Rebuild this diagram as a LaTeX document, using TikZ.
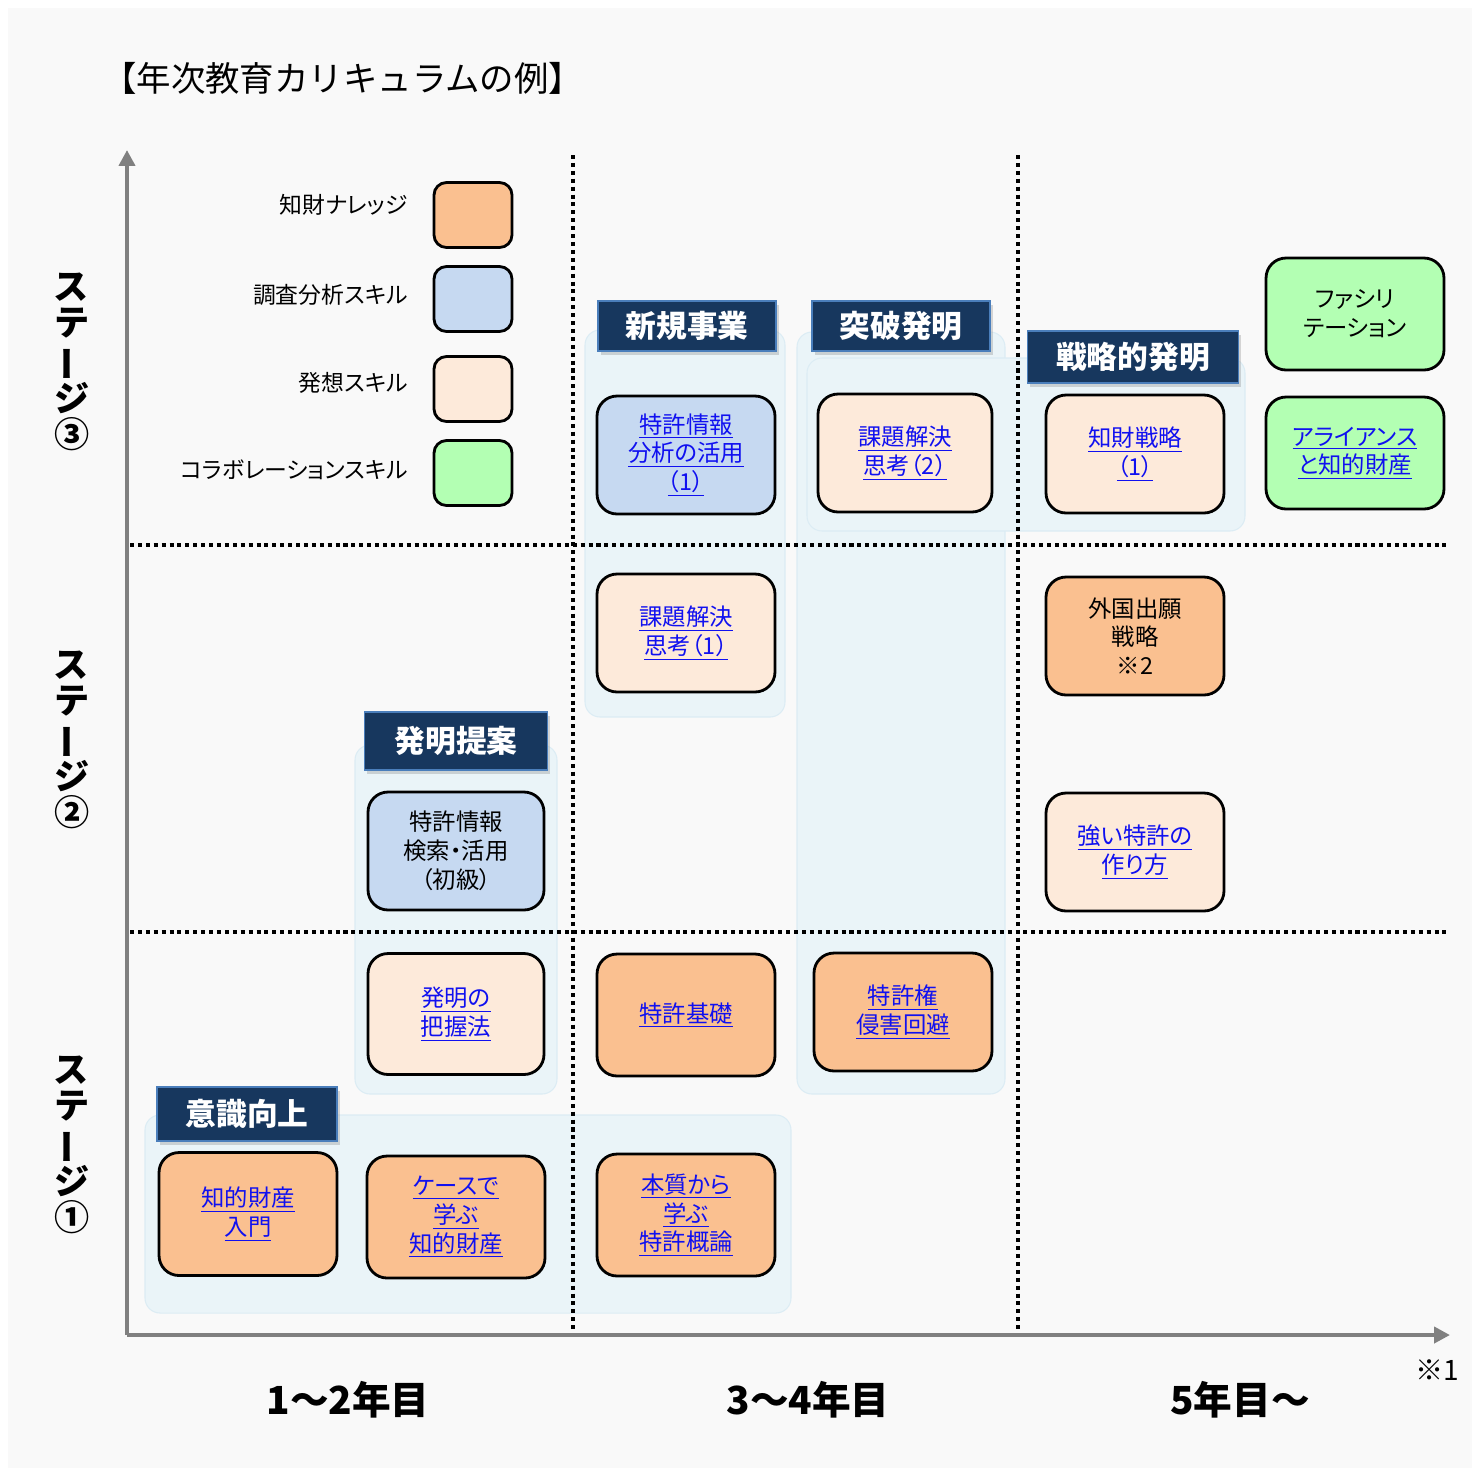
\documentclass[tikz,border=0pt]{standalone}
\usepackage{fontspec}
\setmainfont{Noto Sans CJK JP}[RawFeature=+palt]
\newfontfamily\titlefont{Noto Sans CJK JP}
\usetikzlibrary{arrows.meta,shadows}
\definecolor{knowc}{HTML}{FAC090}
\definecolor{surveyc}{HTML}{C6D9F1}
\definecolor{ideac}{HTML}{FDEADA}
\definecolor{collabc}{HTML}{B3FFB3}
\definecolor{navyc}{HTML}{17375E}
\definecolor{navyedge}{HTML}{4A7EBB}
\definecolor{panelc}{HTML}{EAF4F8}
\definecolor{paneledge}{HTML}{DCECF4}
\definecolor{axisc}{HTML}{808080}
\definecolor{bgc}{HTML}{F9F9F9}
\definecolor{linkc}{HTML}{1010F0}
\newcommand{\lk}[1]{\underline{#1}}

\begin{document}
\begin{tikzpicture}[x=0.02cm, y=-0.02cm,
    course/.style={rectangle, draw, line width=1.6pt, rounded corners=0.4cm, minimum width=3.56cm, minimum height=2.36cm, align=center, font=\fontsize{13.3}{16.4}\selectfont},
    know/.style={course, fill=knowc},
    survey/.style={course, fill=surveyc},
    idea/.style={course, fill=ideac},
    collab/.style={course, fill=collabc},
    link/.style={text=linkc},
    header/.style={rectangle, fill=navyc, draw=navyedge, line width=1pt, text=white, font=\bfseries\fontsize{17.5}{20}\selectfont, minimum width=3.56cm, minimum height=1cm, drop shadow={shadow xshift=1.5pt, shadow yshift=-2.5pt, opacity=0.3}},
    panel/.style={fill=panelc, draw=paneledge, line width=0.6pt, rounded corners=0.3cm},
    swatch/.style={rectangle, draw, line width=1.6pt, rounded corners=0.25cm, minimum width=1.56cm, minimum height=1.3cm},
    legendtext/.style={anchor=east, font=\fontsize{13}{15}\selectfont},
    stage/.style={align=center, font=\bfseries\fontsize{20}{20.5}\selectfont},
    year/.style={font=\bfseries\fontsize{22}{24}\selectfont},
    grid/.style={line width=2.3pt, dash pattern=on 2.3pt off 2.2pt},
    axis/.style={draw=axisc, line width=2.8pt, -{Triangle[length=9pt, width=9pt]}}
]
    % background
    \useasboundingbox[fill=white] (0,0) rectangle (1480,1472);
    \fill[bgc] (8,8) rectangle (1472,1468);

    \node[anchor=west, font=\titlefont\fontsize{19.6}{22}\selectfont] (title) at (96,78) {【年次教育カリキュラムの例】};

    % panels
    \draw[panel] (145,1115) rectangle (791,1313);
    \draw[panel] (355,745) rectangle (557,1094);
    \draw[panel] (585,330) rectangle (785,717);
    \draw[panel] (797,332) rectangle (1005,1094);
    \draw[panel] (807,358) rectangle (1245,531);

    % grid
    \draw[grid] (573,155) -- (573,1337);
    \draw[grid] (1018,155) -- (1018,1337);
    \draw[grid] (130,545) -- (1450,545);
    \draw[grid] (130,932) -- (1450,932);

    % axes
    \coordinate (origin) at (127,1335);
    \coordinate (ytop) at (127,150);
    \coordinate (xend) at (1450,1335);
    \draw[axis] (origin) -- (ytop);
    \draw[axis] (origin) -- (xend);

    % legend
    \node[swatch, fill=knowc] (leg1) at (473,215) {};
    \node[swatch, fill=surveyc] (leg2) at (473,299) {};
    \node[swatch, fill=ideac] (leg3) at (473,389) {};
    \node[swatch, fill=collabc] (leg4) at (473,473) {};
    \node[legendtext] (leglab1) at (414,205) {知財ナレッジ};
    \node[legendtext] (leglab2) at (414,295) {調査分析スキル};
    \node[legendtext] (leglab3) at (414,383) {発想スキル};
    \node[legendtext] (leglab4) at (414,470) {コラボレーションスキル};

    % stages and years
    \node[stage] (stage3) at (72,362) {ス\\テ\\\rotatebox[origin=c]{90}{ー}\\ジ\\③};
    \node[stage] (stage2) at (72,740) {ス\\テ\\\rotatebox[origin=c]{90}{ー}\\ジ\\②};
    \node[stage] (stage1) at (72,1145) {ス\\テ\\\rotatebox[origin=c]{90}{ー}\\ジ\\①};
    \node[year] (year1) at (348,1400) {1～2年目};
    \node[year] (year2) at (808,1400) {3～4年目};
    \node[year] (year3) at (1240,1400) {5年目～};
    \node[font=\fontsize{16}{18}\selectfont] (note1) at (1437,1370) {※1};

    % headers
    \node[header] (shinki) at (687,326) {新規事業};
    \node[header] (toppa) at (901,326) {突破発明};
    \node[header, minimum width=4.22cm, minimum height=1.04cm] (senryakuhead) at (1133,357) {戦略的発明};
    \node[header, minimum width=3.66cm, minimum height=1.16cm] (teian) at (456,741) {発明提案};
    \node[header, minimum width=3.6cm, minimum height=1.08cm] (ishiki) at (247,1114) {意識向上};

    % stage 3
    \node[survey, link] (bunseki) at (686,455) {\lk{特許情報}\\\lk{分析の活用}\\\lk{（1）}};
    \node[idea, link, minimum width=3.48cm] (kadai2) at (905,453) {\lk{課題解決}\\\lk{思考（2）}};
    \node[idea, link] (senryaku) at (1135,454) {\lk{知財戦略}\\\lk{（1）}};
    \node[collab, minimum height=2.24cm] (facili) at (1355,314) {ファシリ\\テーション};
    \node[collab, link, minimum height=2.24cm] (alliance) at (1355,453) {\lk{アライアンス}\\\lk{と知的財産}};

    % stage 2
    \node[idea, link] (kadai1) at (686,633) {\lk{課題解決}\\\lk{思考（1）}};
    \node[know] (gaikoku) at (1135,636) {外国出願\\戦略\\※2};
    \node[idea, link] (tsuyoi) at (1135,852) {\lk{強い特許の}\\\lk{作り方}};
    \node[survey, minimum width=3.52cm] (kensaku) at (456,851) {特許情報\\検索・活用\\（初級）};

    % stage 1
    \node[idea, link, minimum width=3.52cm, minimum height=2.42cm] (haaku) at (456,1014) {\lk{発明の}\\\lk{把握法}};
    \node[know, link, minimum height=2.44cm] (kiso) at (686,1015) {\lk{特許基礎}};
    \node[know, link] (shingai) at (903,1012) {\lk{特許権}\\\lk{侵害回避}};
    \node[know, link, minimum height=2.46cm] (nyumon) at (248,1214) {\lk{知的財産}\\\lk{入門}};
    \node[know, link, minimum height=2.44cm] (casestudy) at (456,1217) {\lk{ケースで}\\\lk{学ぶ}\\\lk{知的財産}};
    \node[know, link, minimum height=2.44cm] (honshitsu) at (686,1215) {\lk{本質から}\\\lk{学ぶ}\\\lk{特許概論}};
\end{tikzpicture}
\end{document}
